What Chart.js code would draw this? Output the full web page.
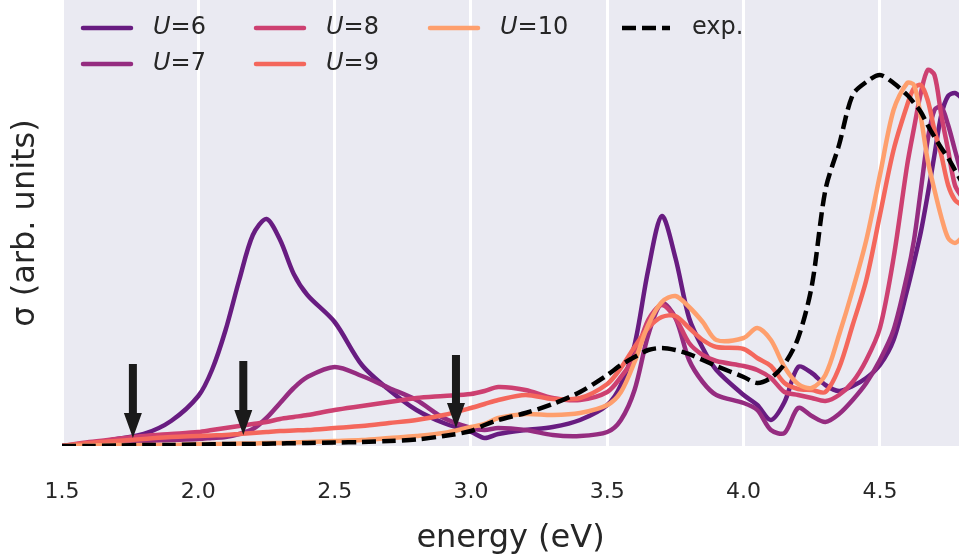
<!DOCTYPE html>
<html>
<head>
<meta charset="utf-8">
<script src="https://cdn.jsdelivr.net/npm/chart.js@4.4.0/dist/chart.umd.min.js"></script>
<style>
  body { margin: 0; background: #fff; }
  canvas { display: block; }
</style>
</head>
<body>
<canvas id="sigmaChart" width="959" height="560"></canvas>
<script>
// energy grid (eV), shared by every curve
const energy = [1.5, 1.6, 1.7, 1.8, 1.9, 2.0, 2.05, 2.1, 2.15, 2.2, 2.25, 2.3, 2.35, 2.4, 2.5, 2.6, 2.7, 2.8, 2.9, 3.0,
  3.05, 3.1, 3.2, 3.3, 3.4, 3.5, 3.55, 3.6, 3.65, 3.7, 3.75, 3.8, 3.85, 3.9, 4.0, 4.05, 4.1, 4.15, 4.2, 4.25,
  4.3, 4.35, 4.4, 4.45, 4.5, 4.55, 4.6, 4.625, 4.65, 4.675, 4.7, 4.725, 4.75, 4.775, 4.8];

// sigma, arb. units
const sigmaU6 = [0, 2, 7, 12, 25, 50, 76, 116, 166, 211, 227, 206, 172, 151, 124, 81, 56, 36, 23, 14,
  8, 12, 16, 19, 26, 41, 61, 101, 176, 230, 188, 128, 98, 76, 51, 41, 26, 44, 79, 73,
  61, 55, 60, 68, 81, 106, 156, 184, 214, 251, 291, 331, 350, 353, 348];
const sigmaU7 = [0, 1, 3, 5, 6, 7, 8, 9, 12, 17, 28, 43, 58, 69, 79, 70, 58, 46, 28, 18,
  16, 18, 16, 11, 10, 14, 26, 56, 111, 143, 128, 86, 64, 51, 43, 36, 16, 13, 38, 30,
  24, 32, 46, 63, 86, 116, 171, 206, 256, 306, 336, 339, 321, 296, 271];
const sigmaU8 = [0, 4, 7, 10, 12, 14, 16, 18, 20, 22, 24, 27, 29, 31, 36, 40, 44, 48, 50, 52,
  55, 59, 56, 48, 46, 54, 69, 89, 126, 141, 128, 103, 91, 85, 80, 76, 68, 54, 51, 48,
  45, 51, 64, 86, 118, 188, 281, 318, 353, 376, 371, 331, 296, 261, 249];
const sigmaU9 = [0, 3, 5, 7, 9, 10, 10.5, 11, 12, 13, 14, 15, 15.5, 16, 18, 20, 23, 26, 31, 38,
  42, 46, 51, 47, 48, 62, 78, 99, 118, 129, 130, 118, 106, 99, 97, 88, 80, 63, 57, 56,
  54, 78, 121, 166, 231, 296, 341, 358, 361, 346, 316, 291, 261, 246, 241];
const sigmaU10 = [0, 0.5, 1, 1, 1, 2, 2, 2, 2.5, 2.5, 3, 3, 3.5, 4, 5, 6, 8, 10, 13, 19,
  22, 28, 32, 31, 33, 41, 54, 84, 121, 144, 150, 139, 124, 106, 108, 118, 106, 79, 62, 58,
  71, 111, 156, 206, 271, 336, 363, 361, 329, 286, 256, 229, 208, 203, 208];
const sigmaExp = [0, 0, 0.5, 1, 1, 1.5, 1.7, 2, 2, 2, 2.3, 2.5, 2.8, 3, 3.5, 4, 5, 6.5, 10, 15,
  21, 26, 33, 42, 54, 71, 81, 89, 96, 98, 96, 92, 86, 80, 69, 63, 68, 82, 108, 160,
  256, 301, 351, 364, 371, 363, 351, 343, 334, 321, 309, 298, 288, 276, 264];

const xTicks = [1.5, 2.0, 2.5, 3.0, 3.5, 4.0, 4.5];

// arrows marking the low-energy features
const arrowEnergy = [1.76, 2.165, 2.945];
const arrowTip = [8, 11, 18];
const arrowTail = [82, 85, 91];

const labels = ['U=6', 'U=7', 'U=8', 'U=9', 'U=10', 'exp.'];
const colors = ['#681c81', '#952c80', '#cd4071', '#f4675c', '#fe9f6d', '#000000'];
const series = [sigmaU6, sigmaU7, sigmaU8, sigmaU9, sigmaU10, sigmaExp];

const font = '"DejaVu Sans", sans-serif';
const textColor = '#262626';

const bgPlugin = {
    id: 'bg',
    beforeDraw(chart) {
        const {ctx, chartArea: a} = chart;
        ctx.save();
        ctx.fillStyle = '#eaeaf2';
        ctx.fillRect(a.left, a.top, a.right - a.left, a.bottom - a.top);
        ctx.restore();
    }
};

const arrowPlugin = {
    id: 'arrows',
    afterDatasetsDraw(chart) {
        const {ctx, scales: {x, y}} = chart;
        ctx.save();
        ctx.fillStyle = '#1a1a1a';
        arrowEnergy.forEach((e, i) => {
            const px = x.getPixelForValue(e);
            const tip = y.getPixelForValue(arrowTip[i]);
            const tail = y.getPixelForValue(arrowTail[i]);
            const headLen = 25, headW = 9, shaftW = 4;
            ctx.beginPath();
            ctx.moveTo(px - shaftW, tail);
            ctx.lineTo(px + shaftW, tail);
            ctx.lineTo(px + shaftW, tip - headLen);
            ctx.lineTo(px + headW, tip - headLen);
            ctx.lineTo(px, tip);
            ctx.lineTo(px - headW, tip - headLen);
            ctx.lineTo(px - shaftW, tip - headLen);
            ctx.closePath();
            ctx.fill();
        });
        ctx.restore();
    }
};

// legend laid out column by column like matplotlib (ncol=4)
const legendCol = [0, 0, 1, 1, 2, 3];
const legendRow = [0, 1, 0, 1, 0, 0];
const legendPlugin = {
    id: 'colLegend',
    afterDraw(chart) {
        const ctx = chart.ctx;
        const colX = [83, 256, 430, 622];
        const rowY = [28, 64];
        ctx.save();
        chart.data.datasets.forEach((ds, i) => {
            const x0 = colX[legendCol[i]];
            const y0 = rowY[legendRow[i]];
            ctx.strokeStyle = ds.borderColor;
            ctx.lineWidth = ds.borderWidth;
            ctx.setLineDash(ds.borderDash || []);
            ctx.lineCap = ds.borderDash ? 'butt' : 'round';
            ctx.beginPath();
            ctx.moveTo(x0, y0);
            ctx.lineTo(x0 + 48, y0);
            ctx.stroke();
            ctx.setLineDash([]);

            ctx.fillStyle = textColor;
            ctx.textBaseline = 'middle';
            let tx = x0 + 70;
            let txt = ds.label;
            if (txt.startsWith('U')) {
                ctx.font = 'italic 24px ' + font;
                ctx.fillText('U', tx, y0);
                tx += ctx.measureText('U').width;
                txt = txt.slice(1);
            }
            ctx.font = '24px ' + font;
            ctx.fillText(txt, tx, y0);
        });
        ctx.restore();
    }
};

const datasets = series.map((vals, i) => ({
    label: labels[i],
    data: energy.map((e, j) => ({x: e, y: vals[j]})),
    borderColor: colors[i],
    borderWidth: 4.5,
    borderDash: i === 5 ? [14, 6] : undefined,
    pointRadius: 0,
    fill: false,
    tension: 0.3,
    order: 5 - i
}));

new Chart(document.getElementById('sigmaChart'), {
    type: 'line',
    data: { datasets: datasets },
    options: {
        responsive: false,
        animation: false,
        devicePixelRatio: 1,
        layout: { padding: 0 },
        plugins: {
            legend: { display: false },
            tooltip: { enabled: false }
        },
        scales: {
            x: {
                type: 'linear',
                min: 1.5,
                max: 4.79,
                afterBuildTicks: s => { s.ticks = xTicks.map(v => ({value: v})); },
                afterFit: s => { s.height = 114; },
                grid: { color: '#ffffff', lineWidth: 3, drawTicks: false },
                border: { display: false },
                ticks: {
                    padding: 33,
                    maxRotation: 0,
                    color: textColor,
                    font: { family: font, size: 22 },
                    callback: v => v.toFixed(1)
                },
                title: {
                    display: true,
                    text: 'energy (eV)',
                    color: textColor,
                    font: { family: font, size: 32 },
                    padding: { top: 0, bottom: 2 }
                }
            },
            y: {
                min: 0,
                max: 446,
                afterFit: s => { s.width = 62; },
                grid: { display: false },
                border: { display: false },
                ticks: { display: false },
                title: {
                    display: true,
                    text: 'σ (arb. units)',
                    color: textColor,
                    font: { family: font, size: 32 },
                    padding: { top: 6, bottom: 0 }
                }
            }
        }
    },
    plugins: [bgPlugin, arrowPlugin, legendPlugin]
});
</script>
</body>
</html>
